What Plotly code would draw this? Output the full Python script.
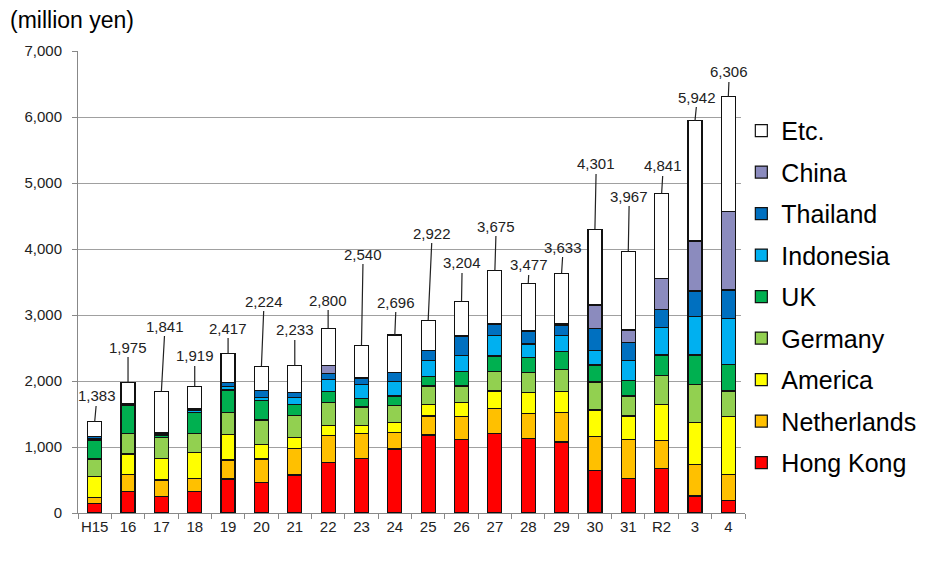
import plotly.graph_objects as go

categories = ["H15", "16", "17", "18", "19", "20", "21", "22", "23", "24",
              "25", "26", "27", "28", "29", "30", "31", "R2", "3", "4"]

hong_kong   = [147, 323, 253, 323, 515, 465, 576, 763, 823, 970,
               1182, 1116, 1207, 1126, 1076, 641, 520, 677, 258, 187]
netherlands = [85, 258, 247, 202, 288, 353, 404, 414, 384, 247,
               288, 344, 379, 384, 444, 516, 596, 419, 474, 399]
america     = [318, 313, 328, 394, 389, 217, 161, 151, 121, 152,
               176, 217, 262, 313, 318, 404, 354, 550, 642, 874]
germany     = [268, 313, 318, 288, 328, 374, 339, 344, 278, 262,
               278, 247, 293, 303, 339, 424, 303, 435, 575, 388]
uk          = [288, 419, 36, 318, 344, 293, 161, 166, 131, 142,
               142, 217, 238, 228, 267, 257, 232, 313, 445, 405]
indonesia   = [24, 15, 15, 25, 56, 51, 112, 187, 212, 222,
               242, 243, 308, 207, 243, 218, 303, 414, 581, 696]
thailand    = [30, 15, 20, 25, 60, 100, 70, 91, 91, 136,
               152, 298, 177, 197, 161, 338, 278, 278, 389, 430]
china       = [0, 0, 0, 0, 0, 0, 0, 116, 15, 0,
               0, 0, 0, 0, 26, 354, 187, 470, 757, 1192]
totals      = [1383, 1975, 1841, 1919, 2417, 2224, 2233, 2800, 2540, 2696,
               2922, 3204, 3675, 3477, 3633, 4301, 3967, 4841, 5942, 6306]

series_names = ["Hong Kong", "Netherlands", "America", "Germany", "UK",
                "Indonesia", "Thailand", "China", "Etc."]

# layout: where each total label sits (axis units) and its horizontal shift
label_y  = [1773, 2515, 2833, 2379, 2803, 3212, 2773, 3227, 3924, 3197,
            4242, 3788, 4348, 3758, 4030, 5288, 4803, 5258, 6303, 6682]
label_dx = [0.07, 0.0, 0.11, 0.0, 0.0, 0.08, 0.0, 0.0, 0.05, 0.04,
            0.12, 0.02, 0.04, 0.03, 0.05, 0.04, 0.03, 0.05, 0.07, 0.03]

colors = ["#FF0000", "#FFC000", "#FFFF00", "#92D050", "#00B050",
          "#00B0F0", "#0070C0", "#8B8BBE", "#FFFFFF"]

known = [hong_kong, netherlands, america, germany, uk, indonesia, thailand, china]
etc = [t - sum(s[i] for s in known) for i, t in enumerate(totals)]
all_series = known + [etc]

xs = list(range(len(categories)))
FONT = "Liberation Sans, Arial, sans-serif"

fig = go.Figure()
for k, (name, vals, col) in enumerate(zip(series_names, all_series, colors)):
    fig.add_trace(go.Bar(
        x=xs, y=vals, name=name, legendgroup=name,
        legendrank=100 - k,
        marker=dict(color=col, line=dict(color="#111111", width=1.2)),
    ))

for i, t in enumerate(totals):
    fig.add_annotation(
        x=xs[i], y=t, xref="x", yref="y",
        ax=xs[i] + label_dx[i], ay=label_y[i], axref="x", ayref="y",
        text=f"{t:,}", showarrow=True, arrowhead=0, arrowwidth=1.2,
        arrowcolor="#222222", standoff=0,
        font=dict(family=FONT, size=15, color="#222222"),
    )

fig.add_annotation(
    text="(million yen)", xref="paper", yref="paper",
    x=-0.105, y=1.067, xanchor="left", yanchor="middle", showarrow=False,
    font=dict(family=FONT, size=23, color="#000000"),
)

fig.update_layout(
    width=917, height=556,
    margin=dict(l=70, r=180, t=43, b=51, autoexpand=False),
    barmode="stack", bargap=0.58,
    plot_bgcolor="#FFFFFF", paper_bgcolor="#FFFFFF",
    showlegend=True,
    legend=dict(
        traceorder="grouped", tracegroupgap=6,
        x=0.9945, y=0.877, xanchor="left", yanchor="top",
        font=dict(family=FONT, size=25, color="#000000"),
        itemwidth=30,
    ),
    xaxis=dict(
        range=[-0.5, len(categories) - 0.5],
        tickmode="array", tickvals=xs, ticktext=categories,
        ticks="", showgrid=False, zeroline=False,
        showline=True, linecolor="#888888", linewidth=1,
        tickfont=dict(family=FONT, size=15, color="#222222"),
        minor=dict(tickmode="array", tickvals=[x - 0.5 for x in xs] + [xs[-1] + 0.5],
                   ticks="outside", ticklen=5, tickcolor="#888888", showgrid=False),
    ),
    yaxis=dict(
        range=[0, 7000], tickmode="array",
        tickvals=[0, 1000, 2000, 3000, 4000, 5000, 6000, 7000],
        tickformat=",", ticks="outside", ticklen=5, tickcolor="#888888",
        ticklabelstandoff=7,
        showgrid=True, gridcolor="#A0A0A0", gridwidth=1,
        zeroline=False, showline=True, linecolor="#888888", linewidth=1,
        tickfont=dict(family=FONT, size=15, color="#222222"),
    ),
)

fig.write_html("out.html")
